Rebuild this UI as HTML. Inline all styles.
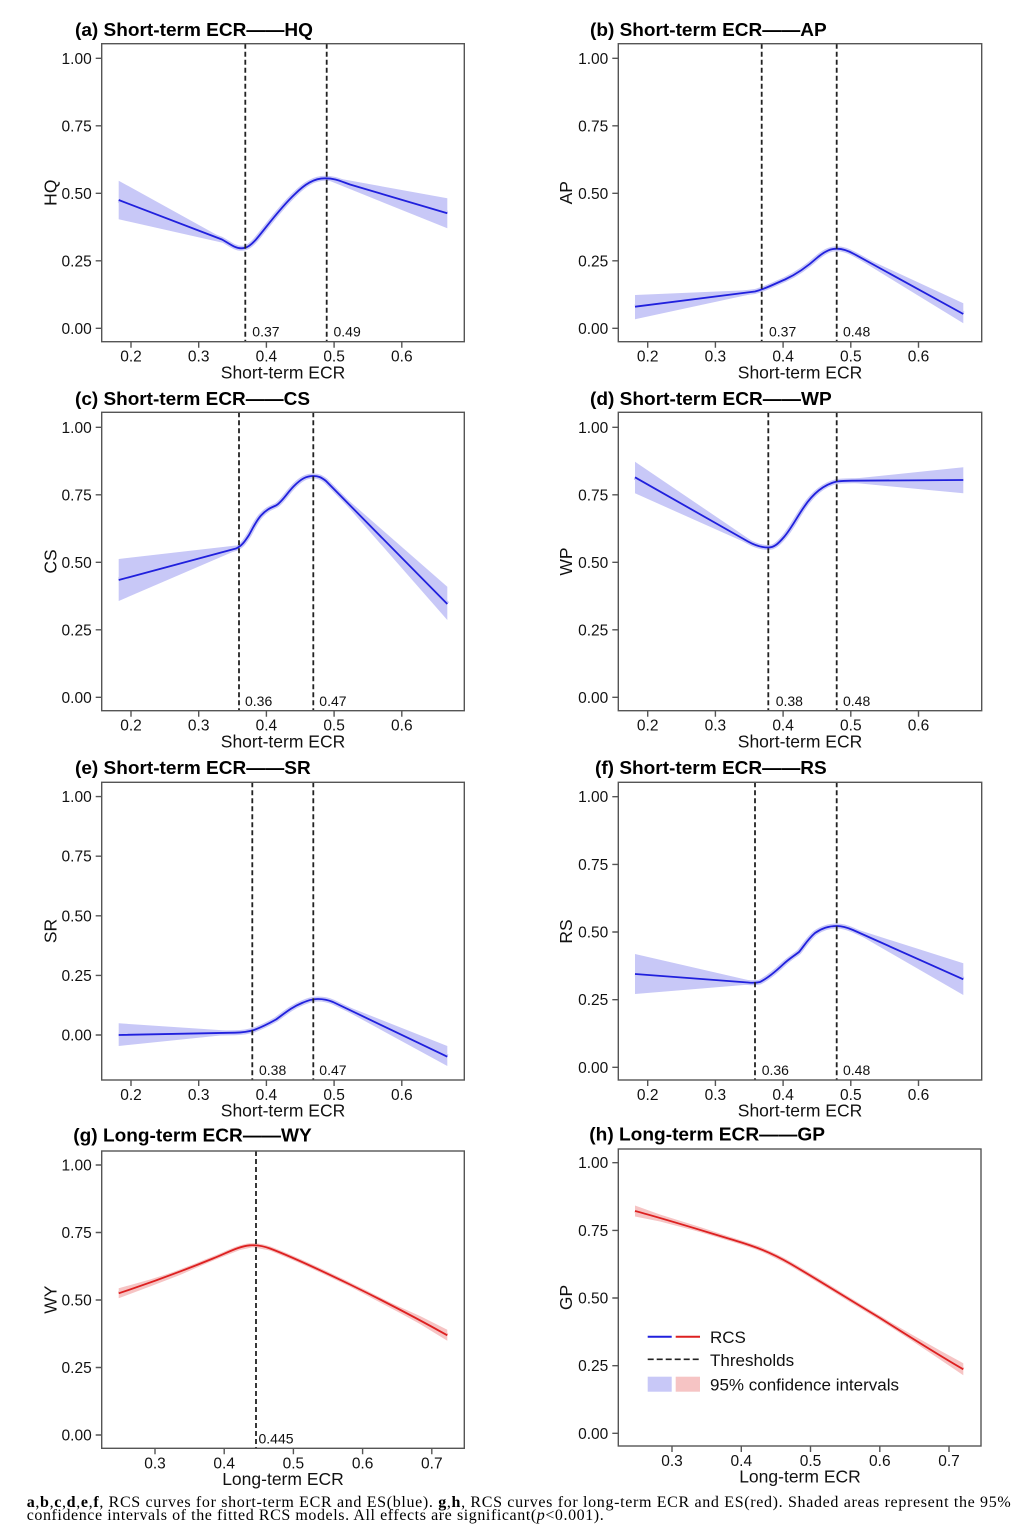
<!DOCTYPE html>
<html>
<head>
<meta charset="utf-8">
<style>
html,body{margin:0;padding:0;background:#fff;}
svg{display:block;}
.box{fill:none;stroke:#555;stroke-width:1.4}
.tk{fill:none;stroke:#555;stroke-width:1.4}
.yl{font-size:15.5px;text-anchor:end;fill:#111}
.xl{font-size:15.5px;text-anchor:middle;fill:#111}
.at{font-size:17.5px;text-anchor:middle;fill:#111}
.ttl{font-size:18px;font-weight:bold;fill:#000}
.th{stroke:#222;stroke-width:1.8;stroke-dasharray:5 3;fill:none}
.thl{font-size:14px;fill:#111}
.bb{fill:#c8c8f7;stroke:none}
.bs{fill:none;stroke:#c8c8f7;stroke-width:5;stroke-linejoin:round;stroke-linecap:butt}
.bl{fill:none;stroke:#2020dd;stroke-width:1.8;stroke-linejoin:round}
.rb{fill:#f6c4c4;stroke:none}
.rs{fill:none;stroke:#f6c4c4;stroke-width:4;stroke-linejoin:round}
.rl{fill:none;stroke:#dd2020;stroke-width:1.8;stroke-linejoin:round}
.lg{font-size:17px;fill:#111}
</style>
</head>
<body>
<svg width="1024" height="1540" viewBox="0 0 1024 1540" xmlns="http://www.w3.org/2000/svg" font-family="'Liberation Sans', Arial, sans-serif">
<rect x="0" y="0" width="1024" height="1540" fill="#fff"/>

<!-- ================= Panel (a) ================= -->
<polygon class="bb" points="118.7,180.7 226,240 226,243.5 118.7,219.3"/>
<polygon class="bb" points="325,176 447.3,198.3 447.3,228.3 330,181"/>
<path class="bs" d="M118.7,200 L222,239.5 C230,244 235,248.3 241,248.3 C247,248.3 251,245 256,239.5 C265,229 280,208 295,194 C305,184 314,178.3 325,178.3 C335,178.3 340,181 350,184.5 L447.3,213.3"/>
<path class="bl" d="M118.7,200 L222,239.5 C230,244 235,248.3 241,248.3 C247,248.3 251,245 256,239.5 C265,229 280,208 295,194 C305,184 314,178.3 325,178.3 C335,178.3 340,181 350,184.5 L447.3,213.3"/>
<path class="th" d="M245.3,43.7V341.7 M326.7,43.7V341.7"/>
<rect class="box" x="101.7" y="43.7" width="362.6" height="298"/>
<path class="tk" d="M95.7,328.3H101.7 M95.7,260.8H101.7 M95.7,193.3H101.7 M95.7,125.8H101.7 M95.7,58.3H101.7 M131,341.7V347.7 M198.7,341.7V347.7 M266.4,341.7V347.7 M334.1,341.7V347.7 M401.8,341.7V347.7"/>
<text class="yl" x="91.7" y="333.8">0.00</text>
<text class="yl" x="91.7" y="266.3">0.25</text>
<text class="yl" x="91.7" y="198.8">0.50</text>
<text class="yl" x="91.7" y="131.3">0.75</text>
<text class="yl" x="91.7" y="63.8">1.00</text>
<text class="xl" x="131" y="361.7">0.2</text>
<text class="xl" x="198.7" y="361.7">0.3</text>
<text class="xl" x="266.4" y="361.7">0.4</text>
<text class="xl" x="334.1" y="361.7">0.5</text>
<text class="xl" x="401.8" y="361.7">0.6</text>
<text class="at" x="283" y="378.3">Short-term ECR</text>
<text class="at" transform="translate(56.5,192.7) rotate(-90)">HQ</text>
<text class="ttl" x="75" y="36" textLength="238" lengthAdjust="spacingAndGlyphs">(a) Short-term ECR——HQ</text>
<text class="thl" x="252.3" y="336.7">0.37</text>
<text class="thl" x="333.5" y="336.7">0.49</text>

<!-- ================= Panel (b) ================= -->
<polygon class="bb" points="635,295 752,290 752,294 635,319.3"/>
<polygon class="bb" points="860,255.5 963.3,303.3 963.3,323.3 860,260"/>
<path class="bs" d="M635,306.7 L755,291.5 C765,289 772,285 785,279.5 C797,274 808,266 818,257 C826,250.5 831,248.7 837,248.7 C843,248.7 848,250.5 855,254.5 L963.3,314"/>
<path class="bl" d="M635,306.7 L755,291.5 C765,289 772,285 785,279.5 C797,274 808,266 818,257 C826,250.5 831,248.7 837,248.7 C843,248.7 848,250.5 855,254.5 L963.3,314"/>
<path class="th" d="M761.7,43.7V341.7 M836.7,43.7V341.7"/>
<rect class="box" x="618.3" y="43.7" width="363.4" height="298"/>
<path class="tk" d="M612.3,328.3H618.3 M612.3,260.8H618.3 M612.3,193.3H618.3 M612.3,125.8H618.3 M612.3,58.3H618.3 M647.7,341.7V347.7 M715.4,341.7V347.7 M783.1,341.7V347.7 M850.8,341.7V347.7 M918.5,341.7V347.7"/>
<text class="yl" x="608.3" y="333.8">0.00</text>
<text class="yl" x="608.3" y="266.3">0.25</text>
<text class="yl" x="608.3" y="198.8">0.50</text>
<text class="yl" x="608.3" y="131.3">0.75</text>
<text class="yl" x="608.3" y="63.8">1.00</text>
<text class="xl" x="647.7" y="361.7">0.2</text>
<text class="xl" x="715.4" y="361.7">0.3</text>
<text class="xl" x="783.1" y="361.7">0.4</text>
<text class="xl" x="850.8" y="361.7">0.5</text>
<text class="xl" x="918.5" y="361.7">0.6</text>
<text class="at" x="800" y="378.3">Short-term ECR</text>
<text class="at" transform="translate(572,192.7) rotate(-90)">AP</text>
<text class="ttl" x="590" y="36" textLength="236.7" lengthAdjust="spacingAndGlyphs">(b) Short-term ECR——AP</text>
<text class="thl" x="769" y="336.7">0.37</text>
<text class="thl" x="843" y="336.7">0.48</text>

<!-- ================= Panel (c) ================= -->
<polygon class="bb" points="118.7,559 236,545.5 236,550.5 118.7,601"/>
<polygon class="bb" points="335,488.5 447.3,586.7 447.3,620 335,492"/>
<path class="bs" d="M118.7,580 L236,548.5 C242,546 245,541 249,535 C253,528 256,521 261,515.5 C266,510 270,508 276,505.5 C282,502 287,493 294,486 C301,479 306,476 313.3,476 C318,476 321,477 326,481 L447.3,604"/>
<path class="bl" d="M118.7,580 L236,548.5 C242,546 245,541 249,535 C253,528 256,521 261,515.5 C266,510 270,508 276,505.5 C282,502 287,493 294,486 C301,479 306,476 313.3,476 C318,476 321,477 326,481 L447.3,604"/>
<path class="th" d="M239,412.3V710.7 M313.3,412.3V710.7"/>
<rect class="box" x="101.7" y="412.3" width="362.6" height="298.4"/>
<path class="tk" d="M95.7,697.3H101.7 M95.7,629.8H101.7 M95.7,562.3H101.7 M95.7,494.8H101.7 M95.7,427.3H101.7 M131,710.7V716.7 M198.7,710.7V716.7 M266.4,710.7V716.7 M334.1,710.7V716.7 M401.8,710.7V716.7"/>
<text class="yl" x="91.7" y="702.8">0.00</text>
<text class="yl" x="91.7" y="635.3">0.25</text>
<text class="yl" x="91.7" y="567.8">0.50</text>
<text class="yl" x="91.7" y="500.3">0.75</text>
<text class="yl" x="91.7" y="432.8">1.00</text>
<text class="xl" x="131" y="730.7">0.2</text>
<text class="xl" x="198.7" y="730.7">0.3</text>
<text class="xl" x="266.4" y="730.7">0.4</text>
<text class="xl" x="334.1" y="730.7">0.5</text>
<text class="xl" x="401.8" y="730.7">0.6</text>
<text class="at" x="283" y="747.3">Short-term ECR</text>
<text class="at" transform="translate(56.5,561.5) rotate(-90)">CS</text>
<text class="ttl" x="75" y="405" textLength="235" lengthAdjust="spacingAndGlyphs">(c) Short-term ECR——CS</text>
<text class="thl" x="245" y="706">0.36</text>
<text class="thl" x="319.3" y="706">0.47</text>

<!-- ================= Panel (d) ================= -->
<polygon class="bb" points="635,461.7 752,541 752,545.5 635,493.3"/>
<polygon class="bb" points="850,479 963.3,467.3 963.3,493.3 850,482.5"/>
<path class="bs" d="M635,477.3 L748,541.5 C756,546 762,547.5 768.3,547.5 C774,547.5 778,544 784,537 C791,529 797,517 804,507 C812,495 822,485 836.7,481.5 C842,480.8 846,480.7 852,480.7 L963.3,480"/>
<path class="bl" d="M635,477.3 L748,541.5 C756,546 762,547.5 768.3,547.5 C774,547.5 778,544 784,537 C791,529 797,517 804,507 C812,495 822,485 836.7,481.5 C842,480.8 846,480.7 852,480.7 L963.3,480"/>
<path class="th" d="M768.3,412.3V710.7 M836.7,412.3V710.7"/>
<rect class="box" x="618.3" y="412.3" width="363.4" height="298.4"/>
<path class="tk" d="M612.3,697.3H618.3 M612.3,629.8H618.3 M612.3,562.3H618.3 M612.3,494.8H618.3 M612.3,427.3H618.3 M647.7,710.7V716.7 M715.4,710.7V716.7 M783.1,710.7V716.7 M850.8,710.7V716.7 M918.5,710.7V716.7"/>
<text class="yl" x="608.3" y="702.8">0.00</text>
<text class="yl" x="608.3" y="635.3">0.25</text>
<text class="yl" x="608.3" y="567.8">0.50</text>
<text class="yl" x="608.3" y="500.3">0.75</text>
<text class="yl" x="608.3" y="432.8">1.00</text>
<text class="xl" x="647.7" y="730.7">0.2</text>
<text class="xl" x="715.4" y="730.7">0.3</text>
<text class="xl" x="783.1" y="730.7">0.4</text>
<text class="xl" x="850.8" y="730.7">0.5</text>
<text class="xl" x="918.5" y="730.7">0.6</text>
<text class="at" x="800" y="747.3">Short-term ECR</text>
<text class="at" transform="translate(572,561.5) rotate(-90)">WP</text>
<text class="ttl" x="590" y="405" textLength="241.7" lengthAdjust="spacingAndGlyphs">(d) Short-term ECR——WP</text>
<text class="thl" x="775.7" y="706">0.38</text>
<text class="thl" x="843" y="706">0.48</text>

<!-- ================= Panel (e) ================= -->
<polygon class="bb" points="118.7,1023.3 230,1030.8 230,1034.5 118.7,1046"/>
<polygon class="bb" points="340,1003.5 447.3,1046 447.3,1066 340,1007.5"/>
<path class="bs" d="M118.7,1035 C160,1034 200,1033.3 235,1032.7 C243,1032.5 248,1031.8 254,1030 C262,1027 268,1024 276,1019.5 C285,1013 292,1007 302,1003 C308,1000.5 312,999 318,999 C323,999 327,999.5 333,1002 L447.3,1056.7"/>
<path class="bl" d="M118.7,1035 C160,1034 200,1033.3 235,1032.7 C243,1032.5 248,1031.8 254,1030 C262,1027 268,1024 276,1019.5 C285,1013 292,1007 302,1003 C308,1000.5 312,999 318,999 C323,999 327,999.5 333,1002 L447.3,1056.7"/>
<path class="th" d="M252.3,782.3V1080 M313.3,782.3V1080"/>
<rect class="box" x="101.7" y="782.3" width="362.6" height="297.7"/>
<path class="tk" d="M95.7,1035H101.7 M95.7,975.4H101.7 M95.7,915.8H101.7 M95.7,856.2H101.7 M95.7,796.6H101.7 M131,1080V1086 M198.7,1080V1086 M266.4,1080V1086 M334.1,1080V1086 M401.8,1080V1086"/>
<text class="yl" x="91.7" y="1040.5">0.00</text>
<text class="yl" x="91.7" y="980.9">0.25</text>
<text class="yl" x="91.7" y="921.3">0.50</text>
<text class="yl" x="91.7" y="861.7">0.75</text>
<text class="yl" x="91.7" y="802.1">1.00</text>
<text class="xl" x="131" y="1100">0.2</text>
<text class="xl" x="198.7" y="1100">0.3</text>
<text class="xl" x="266.4" y="1100">0.4</text>
<text class="xl" x="334.1" y="1100">0.5</text>
<text class="xl" x="401.8" y="1100">0.6</text>
<text class="at" x="283" y="1116.6">Short-term ECR</text>
<text class="at" transform="translate(56.5,931) rotate(-90)">SR</text>
<text class="ttl" x="75" y="774" textLength="235.7" lengthAdjust="spacingAndGlyphs">(e) Short-term ECR——SR</text>
<text class="thl" x="259" y="1075">0.38</text>
<text class="thl" x="319.3" y="1075">0.47</text>

<!-- ================= Panel (f) ================= -->
<polygon class="bb" points="635,954 750,980.5 750,984.5 635,994"/>
<polygon class="bb" points="855,928.8 963.3,963.3 963.3,995 855,932.5"/>
<path class="bs" d="M635,974 L748,982.5 C752,982.9 756,983 760,982 C768,978 775,972 783,964.5 C790,958 794,956 799,952 C804,946 808,939 815,933 C822,928 829,926 836.7,926 C842,926 846,927 853,930 L963.3,979.3"/>
<path class="bl" d="M635,974 L748,982.5 C752,982.9 756,983 760,982 C768,978 775,972 783,964.5 C790,958 794,956 799,952 C804,946 808,939 815,933 C822,928 829,926 836.7,926 C842,926 846,927 853,930 L963.3,979.3"/>
<path class="th" d="M755,782.3V1080 M836.7,782.3V1080"/>
<rect class="box" x="618.3" y="782.3" width="363.4" height="297.7"/>
<path class="tk" d="M612.3,1067.3H618.3 M612.3,999.7H618.3 M612.3,932H618.3 M612.3,864.4H618.3 M612.3,796.7H618.3 M647.7,1080V1086 M715.4,1080V1086 M783.1,1080V1086 M850.8,1080V1086 M918.5,1080V1086"/>
<text class="yl" x="608.3" y="1072.8">0.00</text>
<text class="yl" x="608.3" y="1005.2">0.25</text>
<text class="yl" x="608.3" y="937.5">0.50</text>
<text class="yl" x="608.3" y="869.9">0.75</text>
<text class="yl" x="608.3" y="802.2">1.00</text>
<text class="xl" x="647.7" y="1100">0.2</text>
<text class="xl" x="715.4" y="1100">0.3</text>
<text class="xl" x="783.1" y="1100">0.4</text>
<text class="xl" x="850.8" y="1100">0.5</text>
<text class="xl" x="918.5" y="1100">0.6</text>
<text class="at" x="800" y="1116.6">Short-term ECR</text>
<text class="at" transform="translate(572,931.5) rotate(-90)">RS</text>
<text class="ttl" x="595" y="774" textLength="231.7" lengthAdjust="spacingAndGlyphs">(f) Short-term ECR——RS</text>
<text class="thl" x="761.7" y="1075">0.36</text>
<text class="thl" x="843" y="1075">0.48</text>

<!-- ================= Panel (g) ================= -->
<polygon class="rb" points="118.7,1288.3 150,1279.5 180,1270 213,1256.5 240,1246 253,1243.3 270,1246.5 300,1259 323.3,1269.7 350,1282.5 373.3,1294.5 400,1307 420,1316 447.3,1329.8 447.3,1340.8 420,1324 400,1313 373.3,1298.9 350,1286.5 323.3,1273.7 300,1263 270,1250.5 253,1247.3 240,1250 213,1260.5 180,1275 150,1286.5 118.7,1298.3"/>
<path class="rs" d="M118.7,1293.3 C150,1283 180,1272 213,1258.5 C228,1252.5 238,1246.5 250,1245.3 C256,1245 262,1245.5 270,1248.5 C290,1256 320,1270 350,1284.5 C390,1304 420,1320 447.3,1335.3"/>
<path class="rl" d="M118.7,1293.3 C150,1283 180,1272 213,1258.5 C228,1252.5 238,1246.5 250,1245.3 C256,1245 262,1245.5 270,1248.5 C290,1256 320,1270 350,1284.5 C390,1304 420,1320 447.3,1335.3"/>
<path class="th" d="M256,1151V1448.3"/>
<rect class="box" x="101.7" y="1151" width="362.6" height="297.3"/>
<path class="tk" d="M95.7,1435H101.7 M95.7,1367.5H101.7 M95.7,1300H101.7 M95.7,1232.5H101.7 M95.7,1165H101.7 M155,1448.3V1454.3 M224.2,1448.3V1454.3 M293.4,1448.3V1454.3 M362.6,1448.3V1454.3 M431.8,1448.3V1454.3"/>
<text class="yl" x="91.7" y="1440.5">0.00</text>
<text class="yl" x="91.7" y="1373">0.25</text>
<text class="yl" x="91.7" y="1305.5">0.50</text>
<text class="yl" x="91.7" y="1238">0.75</text>
<text class="yl" x="91.7" y="1170.5">1.00</text>
<text class="xl" x="155" y="1468.3">0.3</text>
<text class="xl" x="224.2" y="1468.3">0.4</text>
<text class="xl" x="293.4" y="1468.3">0.5</text>
<text class="xl" x="362.6" y="1468.3">0.6</text>
<text class="xl" x="431.8" y="1468.3">0.7</text>
<text class="at" x="283" y="1485">Long-term ECR</text>
<text class="at" transform="translate(56.5,1299.7) rotate(-90)">WY</text>
<text class="ttl" x="73.3" y="1141.7" textLength="238.4" lengthAdjust="spacingAndGlyphs">(g) Long-term ECR——WY</text>
<text class="thl" x="258.5" y="1443.3">0.445</text>

<!-- ================= Panel (h) ================= -->
<polygon class="rb" points="635,1205.5 660,1214.5 700,1227 735,1238.5 760,1246.5 790,1261.5 820,1279 850,1298 880,1316 910,1333.5 940,1350.5 963.3,1363.3 963.3,1375.3 940,1359.5 910,1339.5 880,1320 850,1302 820,1283 790,1265.5 760,1250.5 735,1242.5 700,1232 660,1221.5 635,1216.5"/>
<path class="rs" d="M635,1211 C665,1219 700,1230 735,1240.5 C755,1246.5 770,1252 790,1263.5 C815,1278 850,1300 880,1318 C910,1337 940,1356 963.3,1369.3"/>
<path class="rl" d="M635,1211 C665,1219 700,1230 735,1240.5 C755,1246.5 770,1252 790,1263.5 C815,1278 850,1300 880,1318 C910,1337 940,1356 963.3,1369.3"/>
<rect class="box" x="618.3" y="1149" width="362.7" height="297"/>
<path class="tk" d="M612.3,1433.3H618.3 M612.3,1365.7H618.3 M612.3,1298H618.3 M612.3,1230.4H618.3 M612.3,1162.7H618.3 M672,1446V1452 M741.3,1446V1452 M810.5,1446V1452 M879.8,1446V1452 M949,1446V1452"/>
<text class="yl" x="608.3" y="1438.8">0.00</text>
<text class="yl" x="608.3" y="1371.2">0.25</text>
<text class="yl" x="608.3" y="1303.5">0.50</text>
<text class="yl" x="608.3" y="1235.9">0.75</text>
<text class="yl" x="608.3" y="1168.2">1.00</text>
<text class="xl" x="672" y="1466">0.3</text>
<text class="xl" x="741.3" y="1466">0.4</text>
<text class="xl" x="810.5" y="1466">0.5</text>
<text class="xl" x="879.8" y="1466">0.6</text>
<text class="xl" x="949" y="1466">0.7</text>
<text class="at" x="800" y="1482.6">Long-term ECR</text>
<text class="at" transform="translate(572,1297.5) rotate(-90)">GP</text>
<text class="ttl" x="589.3" y="1140.7" textLength="235.7" lengthAdjust="spacingAndGlyphs">(h) Long-term ECR——GP</text>

<!-- Legend -->
<line x1="647.7" y1="1336.7" x2="671.7" y2="1336.7" stroke="#2020dd" stroke-width="2"/>
<line x1="675.7" y1="1336.7" x2="700" y2="1336.7" stroke="#dd2020" stroke-width="2"/>
<text class="lg" x="710" y="1343">RCS</text>
<line x1="647.7" y1="1359.3" x2="700" y2="1359.3" stroke="#222" stroke-width="1.6" stroke-dasharray="6 3"/>
<text class="lg" x="710" y="1366">Thresholds</text>
<rect x="647.7" y="1376.7" width="24" height="15" fill="#c8c8f7"/>
<rect x="675.7" y="1376.7" width="24.3" height="15" fill="#f6c4c4"/>
<text class="lg" x="710" y="1390.7">95% confidence intervals</text>

<!-- Caption -->
<text x="26.7" y="1507" font-family="'Liberation Serif', 'Times New Roman', serif" font-size="16" fill="#000" textLength="984" lengthAdjust="spacing"><tspan font-weight="bold">a</tspan>,<tspan font-weight="bold">b</tspan>,<tspan font-weight="bold">c</tspan>,<tspan font-weight="bold">d</tspan>,<tspan font-weight="bold">e</tspan>,<tspan font-weight="bold">f</tspan>, RCS curves for short-term ECR and ES(blue). <tspan font-weight="bold">g</tspan>,<tspan font-weight="bold">h</tspan>, RCS curves for long-term ECR and ES(red). Shaded areas represent the 95%</text>
<text x="26.7" y="1520" font-family="'Liberation Serif', 'Times New Roman', serif" font-size="16" fill="#000" textLength="577" lengthAdjust="spacing">confidence intervals of the fitted RCS models. All effects are significant(<tspan font-style="italic">p</tspan>&lt;0.001).</text>
</svg>
</body>
</html>
